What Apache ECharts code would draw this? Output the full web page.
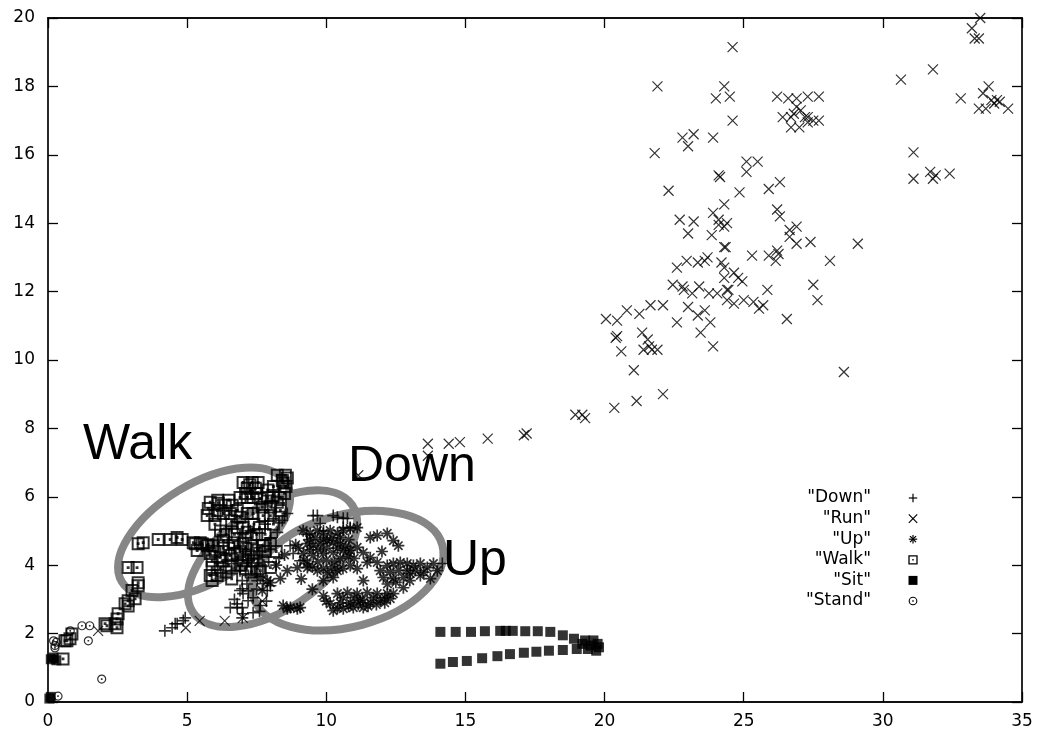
<!DOCTYPE html>
<html><head><meta charset="utf-8">
<script src="https://cdn.jsdelivr.net/npm/echarts@6/dist/echarts.min.js"></script>
<style>html,body{margin:0;padding:0;background:#fff}#c{width:1042px;height:733px}</style>
</head><body><div id="c"></div>
<script>
// ---- axis ranges / ticks ----
const xRange = [0, 35];
const xStep = 5;
const yRange = [0, 20];
const yStep = 2;

// ---- series (x, y) ----
const seriesNames = ['Down', 'Run', 'Up', 'Walk', 'Sit', 'Stand'];

const downData = [
  [6.55,2.76],[6.8,2.76],[6.98,2.76],[7.19,2.96],[7.37,3.05],[7.63,2.82],[7.37,2.61],[7.01,2.58],[6.98,2.46],
  [6.83,4.13],[6.9,3.84],[6.98,3.55],[6.98,3.31],[7.01,3.17],[7.88,3.26],[7.99,3.4],
  [4.2,2.08],[4.46,2.17],[4.64,2.29],[4.86,2.38],[4.93,2.46],[4.57,2.29],
  [9.53,5.45],[10.4,5.4],[10.61,5.37],[10.25,5.45],[9.68,5.45],[10.76,5.37],[9.78,5.22],[10.61,5.1],
  [8.6,5.51],[8.42,5.31],[7.52,3.55],[7.73,3.46],[6.9,3.26],[6.8,2.87],[7.27,5.01],[8.24,4.96],
  [10.86,5.1],[14.17,4.05],[8.81,4.34],[9.06,4.13],[8.7,4.57],[7.1,4.4],[7.3,4.2],[7.5,4.6],[8.0,4.8],[7.8,5.2],
  [6.4,4.3],[6.6,4.05],[7.2,3.7],[8.3,4.2],[9.3,4.9],[9.9,5.0],
  [6.85,4.7],[7.0,4.9],[6.7,4.5],[7.15,3.45],[7.2,3.25],[6.7,3.0],[7.5,3.3],[7.6,2.65],[7.85,2.95]
];

const runData = [
  [33.5,20.0],[33.2,19.7],[33.3,19.4],[33.45,19.4],[24.6,19.15],[31.8,18.5],[30.65,18.2],[21.9,18.0],[24.3,18.0],
  [24.0,17.65],[24.5,17.7],[32.8,17.65],[33.6,17.8],[33.8,18.0],[33.9,17.6],[34.1,17.6],[34.2,17.55],[33.45,17.35],
  [33.7,17.35],[34.0,17.5],[34.5,17.35],[26.2,17.7],[26.6,17.65],[26.9,17.65],[27.3,17.7],[27.7,17.7],[26.9,17.4],
  [27.05,17.3],[26.4,17.1],[26.7,17.1],[26.8,17.2],[27.2,17.1],[27.3,17.1],[27.5,17.0],[27.7,17.0],[26.7,16.8],
  [27.0,16.8],[27.3,16.95],[24.6,17.0],[22.8,16.5],[23.2,16.6],[23.0,16.25],[23.9,16.5],[21.8,16.05],[31.1,16.07],
  [25.1,15.8],[25.5,15.8],[25.1,15.5],[31.1,15.3],[31.7,15.5],[31.8,15.3],[32.4,15.45],[31.9,15.4],[24.15,15.35],
  [24.1,15.4],[22.3,14.95],[24.85,14.9],[25.9,15.0],[26.3,15.2],[26.2,14.4],[26.3,14.2],[23.9,14.3],[24.1,14.1],
  [24.3,14.55],[24.3,13.9],[24.1,13.95],[24.4,14.0],[22.7,14.1],[23.2,14.05],[23.0,13.7],[23.85,13.65],[24.3,13.3],
  [24.35,13.3],[26.65,13.8],[26.9,13.9],[26.65,13.6],[26.9,13.4],[27.4,13.45],[29.1,13.4],[25.3,13.05],[25.9,13.05],
  [26.2,13.2],[26.15,12.9],[26.25,13.1],[28.1,12.9],[22.6,12.7],[22.95,12.9],[23.35,12.85],[23.6,12.9],[23.7,13.0],
  [22.45,12.2],[22.8,12.15],[22.85,12.05],[23.15,11.95],[23.4,12.15],[23.75,11.95],[24.05,11.95],[24.3,12.4],
  [24.4,12.05],[24.45,12.05],[24.8,12.4],[24.65,12.55],[24.95,12.3],[24.3,12.7],[24.2,12.85],[24.4,11.75],
  [24.65,11.65],[25.0,11.75],[25.35,11.7],[25.7,11.6],[25.55,11.5],[25.85,12.05],[27.5,12.2],[27.65,11.75],
  [20.05,11.2],[20.45,11.15],[20.8,11.45],[21.25,11.35],[21.65,11.6],[22.1,11.6],[22.6,11.1],[23.0,11.55],
  [23.35,11.3],[23.6,11.45],[23.8,11.1],[23.45,10.8],[23.9,10.4],[26.55,11.2],[20.4,10.65],[20.45,10.7],
  [20.6,10.25],[21.35,10.8],[21.55,10.6],[21.4,10.3],[21.7,10.3],[21.9,10.3],[21.6,10.4],[28.6,9.65],[21.05,9.7],
  [21.15,8.8],[22.1,9.0],[20.35,8.6],[18.95,8.4],[19.2,8.4],[19.3,8.3],[13.65,7.55],[13.65,7.2],[14.4,7.55],
  [14.8,7.6],[15.8,7.7],[17.1,7.8],[17.2,7.85],[11.15,6.63],[1.8,2.08],[4.95,2.17],[5.45,2.37],[6.35,2.37],
  [7.0,2.46],[7.7,2.95]
];

const upData = [
  [9.17,5.01],[9.42,4.93],[9.68,5.01],[9.89,4.93],[10.14,5.01],[10.4,4.93],[10.61,5.01],[10.86,5.07],[11.11,5.1],
  [9.32,4.63],[9.53,4.57],[9.78,4.63],[10.04,4.72],[10.25,4.66],[10.5,4.63],[9.17,4.34],[9.53,4.28],[9.89,4.34],
  [10.25,4.37],[10.61,4.43],[10.86,4.43],[11.11,4.52],[11.33,4.37],[11.58,4.22],[11.47,4.08],[11.83,4.08],
  [11.58,4.81],[11.83,4.87],[12.19,4.93],[12.41,4.72],[12.59,4.57],
  [9.32,3.93],[9.68,3.84],[10.04,3.78],[10.4,3.84],[10.86,3.99],[11.11,3.9],[9.89,3.55],[10.25,3.64],
  [11.94,3.84],[12.19,3.99],[12.41,4.05],[12.66,4.08],[12.91,4.05],[13.13,3.99],[13.38,4.05],[13.63,3.93],
  [13.85,4.05],[13.99,3.84],[12.05,3.64],[12.41,3.61],[12.77,3.64],[13.02,3.75],[13.38,3.7],[13.74,3.61],
  [11.33,3.55],[12.77,3.34],
  [10.4,3.17],[10.76,3.2],[11.11,3.17],[11.47,3.2],[11.83,3.17],[12.19,3.17],[12.41,3.17],
  [10.14,2.87],[10.5,2.9],[10.86,2.9],[11.22,2.96],[11.58,2.9],[11.94,2.96],[12.3,3.02],
  [10.25,2.67],[10.61,2.73],[10.97,2.76],[11.33,2.76],
  [8.6,2.73],[8.96,2.73],[8.45,2.82],[8.71,2.76],[9.06,2.76],
  [7.63,3.64],[7.99,3.49],[8.35,3.61],[8.6,3.84],[8.96,3.93],[9.32,4.05],[7.7,3.26],[7.88,3.55],
  [8.2,4.0],[8.5,4.3],[8.9,4.6],[9.1,3.6],[9.5,3.3],[10.3,4.1],[11.0,4.2],[12.0,4.4],
  [9.4,4.75],[9.6,4.8],[9.9,4.75],[10.2,4.8],[10.5,4.8],[10.8,4.75],[9.0,4.5],[9.4,4.45],[9.7,4.45],[10.0,4.5],
  [10.4,4.5],[10.7,4.55],[9.2,4.15],[9.7,4.1],[10.0,4.15],[10.5,4.2],[10.8,4.25],[9.5,3.95],[9.9,3.9],[10.2,3.95],
  [10.6,3.9],[12.3,3.8],[12.6,3.85],[12.9,3.85],[13.2,3.85],[13.5,3.8],[12.2,3.45],[12.5,3.5],[13.0,3.55],
  [10.6,3.05],[11.0,3.05],[11.3,3.0],[11.7,3.05],[12.1,3.05],[10.4,2.75],[10.8,2.8],[11.15,2.85],[11.5,2.8],
  [11.8,2.85],[12.1,2.9],[10.0,2.95],[9.9,3.1]
];

const walkData = [
  [2.88,3.93],[3.2,3.93],[3.24,3.49],[3.24,3.4],[3.02,3.26],[3.13,3.02],[2.88,2.96],[2.77,2.87],[2.88,2.81],
  [2.52,2.58],[2.48,2.43],[2.41,2.29],[2.12,2.23],[2.05,2.29],[2.48,2.17],[0.86,1.99],[0.79,1.85],[0.61,1.79],
  [0.54,1.26],[0.68,1.79],
  [3.24,4.63],[3.42,4.66],[3.96,4.75],[4.39,4.75],[4.64,4.81],[4.82,4.75],[5.29,4.63],[5.54,4.63],[5.76,4.6],
  [8.24,6.63],[8.53,6.63],[8.42,6.48],[7.01,6.42],[7.34,6.42],[7.55,6.42],[7.16,6.25],[7.45,6.25],[8.55,6.3],[8.5,6.1],
  [6.9,5.98],[7.16,5.98],[7.37,5.98],[7.63,5.95],[7.88,5.98],[8.09,6.04],[8.35,5.98],[8.24,5.84],
  [5.83,5.84],[6.12,5.81],[6.37,5.75],[6.62,5.75],[5.76,5.66],[6.08,5.6],[5.72,5.45],[6.0,5.45],[6.3,5.51],
  [6.55,5.51],[6.8,5.6],[6.9,5.4],[7.16,5.51],[7.37,5.51],[7.73,5.45],[7.99,5.45],[8.35,5.6],
  [6.8,5.1],[7.01,5.1],[7.16,4.96],
  [5.22,4.66],[5.47,4.66],[5.72,4.57],[5.94,4.57],[6.3,4.72],[6.65,4.66],[7.01,4.63],[7.34,4.57],[7.73,4.57],[7.99,4.63],
  [5.36,4.43],[5.83,4.34],[6.19,4.22],[6.55,4.28],[5.9,4.13],[6.26,4.13],[7.01,4.13],[7.37,4.13],[7.73,4.13],[7.99,3.93],
  [5.9,3.93],[6.19,3.93],[7.52,3.9],[7.63,3.84],[5.83,3.7],[6.08,3.7],[5.9,3.55],
  [6.9,4.4],[7.1,4.5],[7.2,4.3],[6.95,4.0],[7.3,4.8],[7.5,4.9],[6.7,4.9],
  [6.0,5.2],[6.2,5.0],[6.4,4.9],[6.6,5.3],[7.4,5.2],[7.6,5.1],[7.8,4.9],[8.1,5.2],[8.3,5.4],[8.0,5.7],[7.7,5.7],
  [6.3,4.5],[6.5,4.5],[6.8,4.35],[7.5,4.35],[7.8,4.4],[8.2,4.4],[6.0,4.4],[6.4,3.8],[6.6,3.6],[7.1,3.9],[7.3,3.8],
  [6.5,4.0],[8.6,6.55],[8.45,6.4],[7.25,6.35],[7.1,6.1],[7.5,6.1],[7.9,6.2],[6.1,5.9],[6.5,5.9],[8.1,6.3]
];

const sitData = [
  [14.1,2.05],[14.65,2.05],[15.2,2.05],[15.7,2.07],[16.25,2.08],[16.45,2.08],[16.7,2.08],[17.15,2.07],[17.6,2.07],
  [18.05,2.05],[18.5,1.95],[18.9,1.85],[19.3,1.8],[19.6,1.8],[19.75,1.7],
  [14.1,1.12],[14.55,1.17],[15.05,1.2],[15.6,1.28],[16.15,1.34],[16.6,1.4],[17.1,1.44],[17.55,1.47],[18.0,1.5],
  [18.5,1.52],[19.0,1.55],[19.4,1.55],[19.7,1.5],[19.5,1.65],[19.8,1.6],[19.2,1.7],
  [0.05,0.1],[0.1,0.15],[0.1,1.25],[0.2,1.3],[0.3,1.22]
];

const standData = [
  [0.25,1.58],[0.8,2.08],[1.22,2.23],[1.5,2.23],[1.45,1.79],[1.93,0.67],[0.36,0.17],[0.2,1.79],[0.3,1.75],
  [0.25,1.65],[0.2,1.26],[0.1,0.12]
];

// ---- annotations ----
const ellipseCenters = [[5.61, 4.96], [8.07, 4.19], [10.77, 3.84]];
const annotationTexts = ['Walk', 'Down', 'Up'];

// ---- styles ----
const ellipseStyle = [
  { rx: 96, ry: 49, rot: 31 },
  { rx: 96, ry: 51, rot: 34 },
  { rx: 98, ry: 56, rot: 15 }
];
const annotationPos = [[83, 445], [348, 467], [443, 561]];

const FONT = '"Liberation Sans", Arial, Helvetica, sans-serif';
const TFONT = '"DejaVu Sans", sans-serif';
const P = {
  plus: 'path://M5 0L5 10M0 5L10 5',
  cross: 'path://M0 0L10 10M10 0L0 10',
  star: 'path://M5 0L5 10M0 5L10 5M1.5 1.5L8.5 8.5M8.5 1.5L1.5 8.5',
  box: 'path://M0 0L10 0L10 10L0 10ZM4.6 4.6L5.4 4.6L5.4 5.4L4.6 5.4Z',
  circ: 'path://M0 5A5 5 0 1 1 10 5A5 5 0 1 1 0 5ZM4.7 4.7L5.3 4.7L5.3 5.3L4.7 5.3Z'
};
const strokeStyle = w => ({ color: 'rgba(0,0,0,0)', borderColor: '#000', borderWidth: w });

const chart = echarts.init(document.getElementById('c'), null, { renderer: 'canvas' });

const axisCommon = {
  type: 'value', scale: false,
  splitLine: { show: false },
  axisLine: { show: true, onZero: false, lineStyle: { color: '#111', width: 1.8 } },
  axisTick: { show: true, inside: true, length: 10, lineStyle: { color: '#000', width: 1.3 } }
};

// legend built from graphic elements (gnuplot style: text right, symbol to its right)
const legendX = 871, symX = 913, legendY0 = 498, legendDy = 20.6;
function legendSymbol(i, y) {
  const s = 4.2, st = { stroke: '#000', lineWidth: 1.2, fill: null };
  const L = (x1, y1, x2, y2) => ({ type: 'line', shape: { x1, y1, x2, y2 }, style: st, silent: true });
  switch (i) {
    case 0: return [L(symX - s, y, symX + s, y), L(symX, y - s, symX, y + s)];
    case 1: return [L(symX - s, y - s, symX + s, y + s), L(symX + s, y - s, symX - s, y + s)];
    case 2: return [L(symX - s, y, symX + s, y), L(symX, y - s, symX, y + s),
                    L(symX - 3, y - 3, symX + 3, y + 3), L(symX + 3, y - 3, symX - 3, y + 3)];
    case 3: return [{ type: 'rect', shape: { x: symX - 4, y: y - 4, width: 8, height: 8 }, style: { stroke: '#000', lineWidth: 1.3, fill: null } },
                    { type: 'rect', shape: { x: symX - 0.7, y: y - 0.7, width: 1.4, height: 1.4 }, style: { fill: '#000' } }];
    case 4: return [{ type: 'rect', shape: { x: symX - 4.5, y: y - 4.5, width: 9, height: 9 }, style: { fill: '#000' } }];
    default: return [{ type: 'circle', shape: { cx: symX, cy: y, r: 3.8 }, style: { stroke: '#000', lineWidth: 1.1, fill: null } },
                     { type: 'rect', shape: { x: symX - 0.7, y: y - 0.7, width: 1.4, height: 1.4 }, style: { fill: '#000' } }];
  }
}
const graphics = [];
seriesNames.forEach((n, i) => {
  const y = legendY0 + i * legendDy;
  graphics.push({ type: 'text', x: legendX, y: y, silent: true,
    style: { text: '"' + n + '"', font: '17px ' + TFONT, fill: '#000', align: 'right', verticalAlign: 'middle' } });
  legendSymbol(i, y).forEach(g => graphics.push(g));
});
annotationTexts.forEach((t, i) => {
  graphics.push({ type: 'text', x: annotationPos[i][0], y: annotationPos[i][1], z: 10, silent: true,
    style: { text: t, font: '50px ' + FONT, fill: '#000', align: 'left', verticalAlign: 'middle' } });
});

const option = {
  animation: false,
  backgroundColor: '#fff',
  grid: { left: 48, right: 20, top: 18, bottom: 31, containLabel: false },
  xAxis: [
    Object.assign({}, axisCommon, { min: xRange[0], max: xRange[1], interval: xStep, position: 'bottom',
      axisLabel: { show: true, margin: 11, color: '#000', fontSize: 17, fontFamily: TFONT } }),
    Object.assign({}, axisCommon, { min: xRange[0], max: xRange[1], interval: xStep, position: 'top',
      axisLabel: { show: false } })
  ],
  yAxis: [
    Object.assign({}, axisCommon, { min: yRange[0], max: yRange[1], interval: yStep, position: 'left',
      axisLabel: { show: true, margin: 13, color: '#000', fontSize: 17, fontFamily: TFONT } }),
    Object.assign({}, axisCommon, { min: yRange[0], max: yRange[1], interval: yStep, position: 'right',
      axisLabel: { show: false } })
  ],
  graphic: graphics,
  series: [
    {
      type: 'custom', name: 'ellipses', data: ellipseCenters, z: 1, silent: true, clip: false,
      renderItem: function (params, api) {
        const c = api.coord([api.value(0), api.value(1)]);
        const s = ellipseStyle[params.dataIndex];
        return {
          type: 'ellipse', x: c[0], y: c[1], rotation: s.rot * Math.PI / 180,
          shape: { cx: 0, cy: 0, rx: s.rx, ry: s.ry },
          style: { fill: null, stroke: '#868686', lineWidth: 8 }
        };
      }
    },
    { type: 'scatter', name: 'Down', data: downData, symbol: P.plus, symbolSize: 12, z: 3, itemStyle: strokeStyle(1.6) },
    { type: 'scatter', name: 'Run', data: runData, symbol: P.cross, symbolSize: 10, z: 3, itemStyle: strokeStyle(1.2) },
    { type: 'scatter', name: 'Up', data: upData, symbol: P.star, symbolSize: 12, z: 3, itemStyle: strokeStyle(1.7) },
    { type: 'scatter', name: 'Walk', data: walkData, symbol: P.box, symbolSize: 11, z: 3, itemStyle: strokeStyle(2) },
    { type: 'scatter', name: 'Sit', data: sitData, symbol: 'rect', symbolSize: 10, z: 3, itemStyle: { color: '#000' } },
    { type: 'scatter', name: 'Stand', data: standData, symbol: P.circ, symbolSize: 8, z: 3, itemStyle: strokeStyle(1.2) }
  ]
};
chart.setOption(option);
</script>
</body></html>
